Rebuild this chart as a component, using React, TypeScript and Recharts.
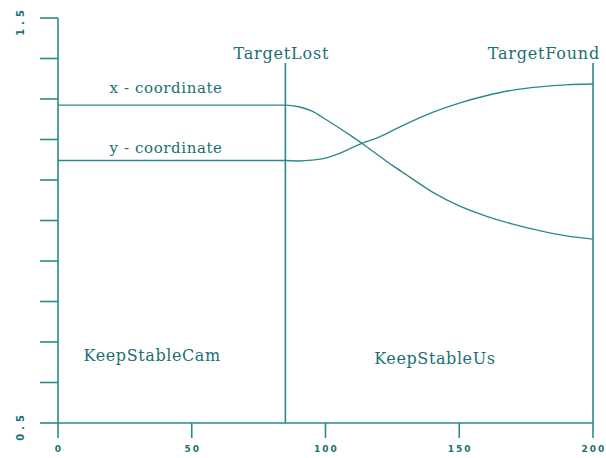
import React from 'react';
import { LineChart, Line, XAxis, YAxis, ReferenceLine, ReferenceDot } from 'recharts';

// Sample positions along the run and the two tracked coordinates
const positions = [0, 85, 90, 95, 100, 105, 110, 115, 120, 125, 130, 140, 150, 160, 170, 180, 190, 200];
const xCoordinate = [1.285, 1.285, 1.281, 1.27, 1.25, 1.229, 1.207, 1.184, 1.16, 1.136, 1.114, 1.07, 1.036, 1.011, 0.991, 0.975, 0.962, 0.954];
const yCoordinate = [1.148, 1.148, 1.147, 1.149, 1.154, 1.165, 1.18, 1.194, 1.206, 1.222, 1.238, 1.267, 1.29, 1.308, 1.322, 1.33, 1.335, 1.337];

const xTicks = [0, 50, 100, 150, 200];
const xTickLabels = ['0', '50', '100', '150', '200'];
const yTicks = [0.5, 0.6, 0.7, 0.8, 0.9, 1.0, 1.1, 1.2, 1.3, 1.4, 1.5];
const yLabelledTicks = [0.5, 1.5];
const yTickLabels = ['0.5', '1.5'];

// Events on the run
const targetLost = 85;
const targetFound = 200;
const eventTop = 1.389;

const LINE = '#2a8a8b';
const TEXT = '#1c6f72';
const SERIF = '"DejaVu Serif", "Liberation Serif", serif';

const data = positions.map((p, i) => ({ p, x: xCoordinate[i], y: yCoordinate[i] }));

const XTick = (props: any) => {
  const { x, y, payload } = props;
  const idx = xTicks.indexOf(payload.value);
  return (
    <text x={x + 1} y={y + 12} textAnchor="middle" fill={TEXT} fontFamily="DejaVu Sans, sans-serif"
      fontSize={9} fontWeight="bold" letterSpacing={2}>
      {idx >= 0 ? xTickLabels[idx] : ''}
    </text>
  );
};

const YTick = (props: any) => {
  const { x, y, payload } = props;
  const idx = yLabelledTicks.indexOf(Math.round(payload.value * 10) / 10);
  if (idx < 0) return <g />;
  const cx = x - 18;
  const cy = y + 3;
  return (
    <text x={cx} y={cy} transform={`rotate(-90 ${cx} ${cy})`} textAnchor="middle" dominantBaseline="central"
      fill={TEXT} fontFamily="DejaVu Sans, sans-serif" fontSize={10} fontWeight="bold" letterSpacing={4}>
      {yTickLabels[idx]}
    </text>
  );
};

const textShape = (label: string, anchor: 'start' | 'middle' | 'end', dx: number, dy: number, size: number, spacing: number) =>
  (props: any) => (
    <text x={props.cx + dx} y={props.cy + dy} textAnchor={anchor} fill={TEXT} fontFamily={SERIF}
      fontSize={size} letterSpacing={spacing}>
      {label}
    </text>
  );

export default function App() {
  return (
    <div style={{ position: 'absolute', left: 0, top: 0, width: 606, height: 458, background: '#fff' }}>
      <LineChart width={606} height={458} data={data} margin={{ top: 18, right: 13, bottom: 0, left: 0 }}>
        <XAxis dataKey="p" type="number" domain={[0, 200]} ticks={xTicks} tickSize={15} height={35}
          axisLine={{ stroke: LINE, strokeWidth: 1.6 }} tickLine={{ stroke: LINE, strokeWidth: 1.6 }} tick={<XTick />} />
        <YAxis type="number" domain={[0.5, 1.5]} ticks={yTicks} tickSize={18} width={58} interval={0}
          axisLine={{ stroke: LINE, strokeWidth: 1.6 }} tickLine={{ stroke: LINE, strokeWidth: 1.6 }} tick={<YTick />} />
        <ReferenceLine segment={[{ x: targetLost, y: 0.5 }, { x: targetLost, y: eventTop }]} stroke={LINE} strokeWidth={1.6} />
        <ReferenceLine segment={[{ x: targetFound, y: 0.5 }, { x: targetFound, y: eventTop }]} stroke={LINE} strokeWidth={1.6} />
        <Line dataKey="x" type="monotone" stroke={LINE} strokeWidth={1.4} dot={false} isAnimationActive={false} />
        <Line dataKey="y" type="monotone" stroke={LINE} strokeWidth={1.4} dot={false} isAnimationActive={false} />
        <ReferenceDot x={targetLost} y={eventTop} r={0} shape={textShape('TargetLost', 'middle', -4, -4, 16, 0.8)} />
        <ReferenceDot x={targetFound} y={eventTop} r={0} shape={textShape('TargetFound', 'end', 7, -4, 16, 0.8)} />
        <ReferenceDot x={40.4} y={1.315} r={0} shape={textShape('x - coordinate', 'middle', 0, 0, 15, 0.6)} />
        <ReferenceDot x={40.4} y={1.167} r={0} shape={textShape('y - coordinate', 'middle', 0, 0, 15, 0.6)} />
        <ReferenceDot x={35.2} y={0.652} r={0} shape={textShape('KeepStableCam', 'middle', 0, 0, 16, 0.6)} />
        <ReferenceDot x={140.9} y={0.645} r={0} shape={textShape('KeepStableUs', 'middle', 0, 0, 16, 0.6)} />
      </LineChart>
    </div>
  );
}
